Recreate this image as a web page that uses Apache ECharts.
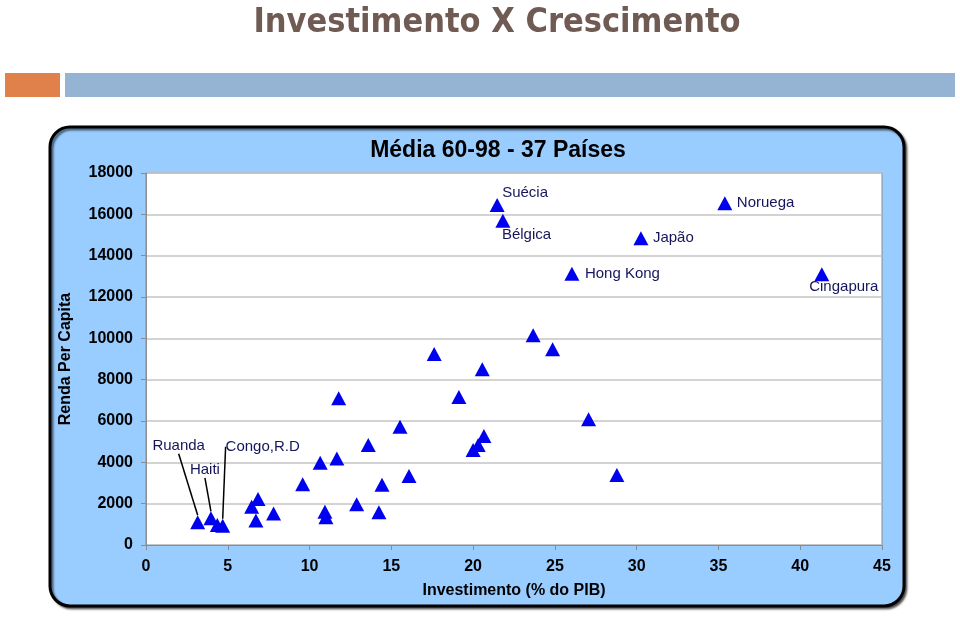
<!DOCTYPE html>
<html>
<head>
<meta charset="utf-8">
<script src="https://cdn.jsdelivr.net/npm/echarts@6/dist/echarts.min.js"></script>
<style>
html,body{margin:0;padding:0;background:#fff;}
#c{width:960px;height:630px;}
</style>
</head>
<body>
<div id="c"></div>
<script>
// ---- data ----
const investimento = [3.16, 3.97, 4.36, 4.69, 6.46, 6.85, 6.72, 7.8, 9.58, 10.65, 11.67, 10.94, 11.0, 12.88, 13.59, 14.43, 14.24, 15.53, 16.08, 11.78, 19.13, 21.47, 21.82, 26.04, 23.67, 24.86, 17.62, 20.56, 27.06, 20.66, 20.31, 20.0, 28.79, 35.39, 30.26, 41.32];
const renda = [1100, 1290, 970, 935, 1850, 2230, 1180, 1530, 2940, 3980, 4180, 1610, 1340, 1970, 4840, 2920, 1580, 5720, 3340, 7100, 7160, 16450, 15690, 13130, 10150, 9470, 9240, 8500, 6080, 5280, 4840, 4600, 3390, 16540, 14840, 13100];
const paises = ['Ruanda', 'Haiti', '', 'Congo,R.D', '', '', '', '', '', '', '', '', '', '', '', '', '', '', '', '', '', 'Suécia', 'Bélgica', 'Hong Kong', '', '', '', '', '', '', '', '', '', 'Noruega', 'Japão', 'Cingapura'];
const xTicks = [0, 5, 10, 15, 20, 25, 30, 35, 40, 45];
const yTicks = [0, 2000, 4000, 6000, 8000, 10000, 12000, 14000, 16000, 18000];
const tituloPrincipal = 'Investimento X Crescimento';
const tituloGrafico = 'Média 60-98 - 37 Países';
const nomeX = 'Investimento (% do PIB)';
const nomeY = 'Renda Per Capita';

// ---- label placement (style, not data) ----
const labelPlace = {
  'Suécia':    {align: 'left',   dx: 5,   dy: -12},
  'Bélgica':   {align: 'left',   dx: -1,  dy: 14},
  'Hong Kong': {align: 'left',   dx: 13,  dy: 0},
  'Japão':     {align: 'left',   dx: 12,  dy: 0},
  'Noruega':   {align: 'left',   dx: 12,  dy: 0},
  'Cingapura': {align: 'center', dx: 22,  dy: 13},
  'Ruanda':    {align: 'center', dx: -19, dy: -76, leader: true},
  'Haiti':     {align: 'center', dx: -6,  dy: -48, leader: true},
  'Congo,R.D': {align: 'center', dx: 40,  dy: -79, leader: true}
};

const pts = investimento.map((x, i) => {
  const name = paises[i];
  const item = {value: [x, renda[i]], name: name};
  if (name) {
    const p = labelPlace[name];
    item.label = {show: true, position: 'inside', align: p.align, verticalAlign: 'middle'};
    if (p.leader) item.labelLine = {show: true};
  }
  return item;
});

const chart = echarts.init(document.getElementById('c'), null, {renderer: 'canvas'});
chart.setOption({
  backgroundColor: '#ffffff',
  animation: false,
  graphic: [
    {type: 'rect', shape: {x: 5, y: 73, width: 55, height: 24}, style: {fill: '#e0804a'}, z: -10},
    {type: 'rect', shape: {x: 65, y: 73, width: 890, height: 24}, style: {fill: '#95b4d4'}, z: -10},
    {type: 'rect', shape: {x: 50, y: 127, width: 854, height: 479, r: 20},
     style: {fill: '#99ccff', stroke: '#000', lineWidth: 3, shadowColor: 'rgba(0,0,0,0.55)', shadowOffsetX: 2, shadowOffsetY: 2, shadowBlur: 2}, z: -10}
  ],
  title: [
    {text: tituloPrincipal, left: 492, top: 1, textAlign: 'center',
     textStyle: {fontFamily: "'DejaVu Sans Condensed', 'Liberation Sans Narrow', sans-serif", fontWeight: 'bold', fontSize: 34, color: '#6f5b53'}},
    {text: tituloGrafico, left: 493, top: 134, textAlign: 'center',
     textStyle: {fontFamily: 'Liberation Sans, Arial, sans-serif', fontWeight: 'bold', fontSize: 23, color: '#000'}}
  ],
  grid: {left: 146, right: 78, top: 173, bottom: 85, show: true, backgroundColor: '#ffffff', borderColor: '#8c8c8c', borderWidth: 1, containLabel: false},
  xAxis: {
    type: 'value', min: xTicks[0], max: xTicks[xTicks.length - 1], interval: 5,
    name: nomeX, nameLocation: 'middle', nameGap: 38,
    nameTextStyle: {fontFamily: 'Liberation Sans, Arial, sans-serif', fontWeight: 'bold', fontSize: 16, color: '#000'},
    axisLine: {show: true, lineStyle: {color: '#8c8c8c', width: 1}},
    axisTick: {show: true, length: 5, lineStyle: {color: '#8c8c8c'}},
    axisLabel: {margin: 14, fontFamily: 'Liberation Sans, Arial, sans-serif', fontWeight: 'bold', fontSize: 16, color: '#000', formatter: v => String(v)},
    splitLine: {show: false}
  },
  yAxis: {
    type: 'value', min: yTicks[0], max: yTicks[yTicks.length - 1], interval: 2000,
    name: nomeY, nameLocation: 'middle', nameGap: 72, nameRotate: 90,
    nameTextStyle: {fontFamily: 'Liberation Sans, Arial, sans-serif', fontWeight: 'bold', fontSize: 16, color: '#000'},
    axisLine: {show: true, lineStyle: {color: '#8c8c8c', width: 1}},
    axisTick: {show: true, length: 5, lineStyle: {color: '#8c8c8c'}},
    axisLabel: {margin: 13, fontFamily: 'Liberation Sans, Arial, sans-serif', fontWeight: 'bold', fontSize: 16, color: '#000', formatter: v => String(v)},
    splitLine: {show: true, lineStyle: {color: '#c4c4c4', width: 1.5}}
  },
  series: [{
    type: 'scatter',
    symbol: 'triangle',
    symbolSize: [15, 14],
    itemStyle: {color: '#0000f0', opacity: 1},
    label: {show: false, formatter: '{b}', fontFamily: 'Liberation Sans, Arial, sans-serif', fontSize: 15, color: '#15155c'},
    labelLine: {show: false, lineStyle: {color: '#000', width: 1.5}},
    labelLayout: function (params) {
      const p = labelPlace[paises[params.dataIndex]];
      return p ? {dx: p.dx, dy: p.dy} : {};
    },
    data: pts
  }]
});
</script>
</body>
</html>
